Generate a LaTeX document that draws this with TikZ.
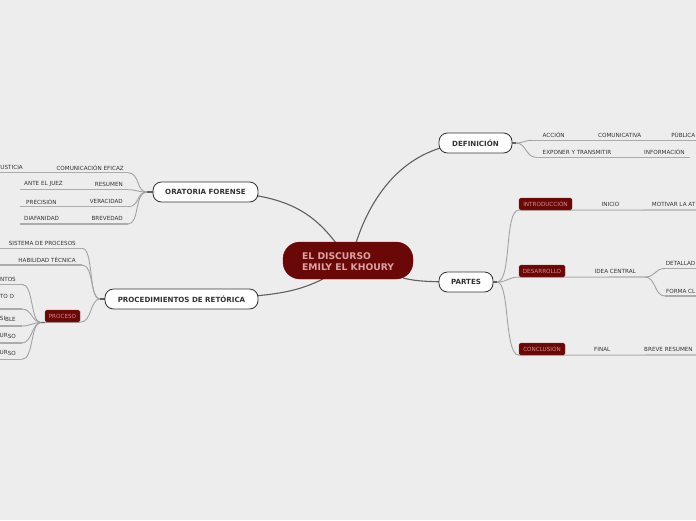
\documentclass[tikz,border=0pt]{standalone}
\usepackage{fontspec}
\setmainfont{DejaVu Sans}
\usetikzlibrary{backgrounds}
\definecolor{bgc}{HTML}{EDEDED}
\definecolor{maroon}{HTML}{6A0808}
\definecolor{pinktext}{HTML}{DBA3A3}
\definecolor{boxtext}{HTML}{D98A8A}
\definecolor{ink}{HTML}{333333}
\definecolor{main}{HTML}{5F5F5F}
\definecolor{thin}{HTML}{A2A2A2}
\definecolor{rulec}{HTML}{ABABAB}
\tikzset{
  x=1pt,y=-1pt,
  core/.style={fill=maroon,draw=maroon,rounded corners=17pt,minimum width=130pt,minimum height=37pt,inner sep=0pt},
  coretext/.style={anchor=west,text=pinktext,font=\fontsize{9.2}{10}\selectfont\bfseries,inner sep=0pt},
  topic/.style={fill=white,draw=ink,line width=.8pt,rounded corners=8.5pt,minimum height=20pt,inner sep=0pt,text=ink,font=\fontsize{7.1}{8}\selectfont\bfseries},
  tag/.style={fill=maroon,draw=maroon!80!white,line width=.3pt,rounded corners=1.5pt,minimum height=12pt,inner sep=0pt,text=boxtext,font=\fontsize{5.65}{6}\selectfont},
  lab/.style={text=ink,font=\fontsize{5.65}{6}\selectfont,inner sep=0pt},
  trunk/.style={draw=main,line width=1.1pt},
  twig/.style={draw=thin,line width=.9pt},
  rule/.style={draw=rulec,line width=1.1pt},
}
\begin{document}
\begin{tikzpicture}
\useasboundingbox (0,0) rectangle (696,520);
% central
\node[core] (hub) at (348,260.5) {};
\node[coretext] (hubone) at (302,256) {EL DISCURSO};
\node[coretext] (hubtwo) at (302,267) {EMILY EL KHOURY};
% topics
\node[topic,minimum width=105pt] (ora) at (205.5,192) {ORATORIA FORENSE};
\node[topic,minimum width=153pt] (pro) at (181.5,299) {PROCEDIMIENTOS DE RETÓRICA};
\node[topic,minimum width=73pt] (def) at (475.5,143) {DEFINICIÓN};
\node[topic,minimum width=54pt] (par) at (466,282) {PARTES};
% tags
\node[tag,minimum width=35pt] (proc) at (62.5,316) {PROCESO};
\node[tag,minimum width=53pt] (intro) at (545.5,204) {INTRODUCCIÓN};
\node[tag,minimum width=46pt] (desa) at (542,271) {DESARROLLO};
\node[tag,minimum width=46pt] (conc) at (542,349) {CONCLUSIÓN};
% labels left
\node[lab,anchor=east] (l1) at (23,167.5) {USTICIA};
\node[lab,anchor=east] (l2) at (124,167.5) {COMUNICACIÓN EFICAZ};
\node[lab,anchor=west] (l3) at (24,184) {ANTE EL JUEZ};
\node[lab,anchor=east] (l4) at (123,184) {RESUMEN};
\node[lab,anchor=west] (l5) at (26,201.5) {PRECISIÓN};
\node[lab,anchor=east] (l6) at (123,201.5) {VERACIDAD};
\node[lab,anchor=west] (l7) at (24,218) {DIAFANIDAD};
\node[lab,anchor=east] (l8) at (123,218) {BREVEDAD};
\node[lab,anchor=east] (l9) at (76,243) {SISTEMA DE PROCESOS};
\node[lab,anchor=east] (l10) at (76,260) {HABILIDAD TÉCNICA};
\node[lab,anchor=east] (l11) at (16,279) {NTOS};
\node[lab,anchor=east] (l12) at (14.3,296) {TO O};
\node[lab,anchor=east] (l13) at (16,319) {SI\raisebox{-1.2pt}{BLE}};
\node[lab,anchor=east] (l14) at (16,336.3) {UR\raisebox{-1.2pt}{SO}};
\node[lab,anchor=east] (l15) at (16,353.3) {UR\raisebox{-1.2pt}{SO}};
% labels right
\node[lab,anchor=west] (r1) at (542.5,135) {ACCIÓN};
\node[lab,anchor=west] (r2) at (598,135) {COMUNICATIVA};
\node[lab,anchor=east] (r3) at (695.5,135) {PÚBLICA};
\node[lab,anchor=west] (r4) at (542.5,152) {EXPONER Y TRANSMITIR};
\node[lab,anchor=west] (r5) at (644,152) {INFORMACIÓN};
\node[lab,anchor=west] (r6) at (601.5,204) {INICIO};
\node[lab,anchor=east] (r7) at (695.5,204) {MOTIVAR LA AT};
\node[lab,anchor=west] (r8) at (594.5,271) {IDEA CENTRAL};
\node[lab,anchor=east] (r9) at (695.5,263) {DETALLAD};
\node[lab,anchor=east] (r10) at (695.5,291) {FORMA CL};
\node[lab,anchor=west] (r11) at (594,349) {FINAL};
\node[lab,anchor=west] (r12) at (644,349) {BREVE RESUMEN};
% junctions and free ends
\coordinate (jo) at (147,192);
\coordinate (jp) at (100,299);
\coordinate (jk) at (41,322.5);
\coordinate (jd) at (516,143);
\coordinate (ja) at (497,282);
\coordinate (jc) at (645,277);
\coordinate (a1) at (128,172.7); \coordinate (a1e) at (0,172.7);
\coordinate (a2) at (128,189.7); \coordinate (a2e) at (20,189.7);
\coordinate (a3) at (128,206.7); \coordinate (a3e) at (20,206.7);
\coordinate (a4) at (128,224);   \coordinate (a4e) at (20,224);
\coordinate (b1) at (82,248.3);  \coordinate (b1e) at (0,248.3);
\coordinate (b2) at (82,265);    \coordinate (b2e) at (0,265);
\coordinate (k1) at (22,284.3);  \coordinate (k1e) at (0,284.3);
\coordinate (k2) at (22,309);    \coordinate (k2e) at (0,309);
\coordinate (k3) at (22,326);    \coordinate (k3e) at (0,326);
\coordinate (k4) at (22,343);    \coordinate (k4e) at (0,343);
\coordinate (k5) at (22,359.3);  \coordinate (k5e) at (0,359.3);
\coordinate (d1) at (532,140.3); \coordinate (d1e) at (696,140.3);
\coordinate (d2) at (536,157.3); \coordinate (d2e) at (690,157.3);
\coordinate (t1) at (696,210);
\coordinate (t2) at (696,355);
\coordinate (e1) at (665,268.5); \coordinate (e1e) at (696,268.5);
\coordinate (e2) at (665,296);   \coordinate (e2e) at (696,296);
\begin{scope}[on background layer]
\fill[bgc] (0,0) rectangle (696,520);
% trunks
\draw[trunk] (hub.center) ++(8,-17.5) .. controls (368,205) and (400,143) .. (def.center);
\draw[trunk] (hub.center) ++(-12,-17.5) .. controls (312,212) and (285,192) .. (ora.center);
\draw[trunk] (hub.center) ++(-25,18.5) .. controls (300,290) and (280,298) .. (pro.center);
\draw[trunk] (hub.center) ++(55,17.5) .. controls (415,281) and (425,282) .. (par.center);
\draw[trunk] (ora.west) -- (jo);
\draw[trunk] (pro.west) -- (jp);
\draw[trunk] (par.east) -- (ja);
\draw[trunk] (def.east) -- (jd);
\draw[trunk] (proc.south west) ++(0,.5) -- (jk);
% oratoria
\draw[twig] (jo) .. controls (136,192) and (140,173) .. (a1);
\draw[twig] (jo) .. controls (138,192) and (136,189.7) .. (a2);
\draw[twig] (jo) .. controls (136,192) and (140,206.7) .. (a3);
\draw[twig] (jo) .. controls (134,192) and (140,224) .. (a4);
\draw[rule] (a1) -- (a1e); \draw[rule] (a2) -- (a2e); \draw[rule] (a3) -- (a3e); \draw[rule] (a4) -- (a4e);
% procedimientos
\draw[twig] (jp) .. controls (88,299) and (94,248.3) .. (b1);
\draw[twig] (jp) .. controls (90,299) and (94,265) .. (b2);
\draw[twig] (jp) .. controls (90,299) and (92,322.5) .. (proc.south east);
\draw[rule] (b1) -- (b1e); \draw[rule] (b2) -- (b2e);
\draw[rule] (proc.south west) -- (proc.south east);
% proceso
\draw[twig] (jk) .. controls (30,322.5) and (34,284.3) .. (k1);
\draw[twig] (jk) .. controls (32,322.5) and (32,309) .. (k2);
\draw[twig] (jk) .. controls (33,322.5) and (30,326) .. (k3);
\draw[twig] (jk) .. controls (32,322.5) and (32,343) .. (k4);
\draw[twig] (jk) .. controls (30,322.5) and (34,359.3) .. (k5);
\draw[rule] (k1) -- (k1e); \draw[rule] (k2) -- (k2e); \draw[rule] (k3) -- (k3e); \draw[rule] (k4) -- (k4e); \draw[rule] (k5) -- (k5e);
% definicion
\draw[twig] (jd) .. controls (524,143) and (524,140.3) .. (d1);
\draw[twig] (jd) .. controls (526,143) and (526,157.3) .. (d2);
\draw[rule] (d1) -- (d1e); \draw[rule] (d2) -- (d2e);
% partes
\draw[twig] (ja) .. controls (512,282) and (504,210) .. (intro.south west);
\draw[twig] (ja) .. controls (508,282) and (508,277) .. (desa.south west);
\draw[twig] (ja) .. controls (510,282) and (504,355) .. (conc.south west);
\draw[rule] (intro.south west) -- (t1);
\draw[rule] (desa.south west) -- (jc);
\draw[rule] (conc.south west) -- (t2);
\draw[twig] (jc) .. controls (656,277) and (654,268.5) .. (e1);
\draw[twig] (jc) .. controls (656,277) and (654,296) .. (e2);
\draw[rule] (e1) -- (e1e); \draw[rule] (e2) -- (e2e);
\end{scope}
\end{tikzpicture}
\end{document}
